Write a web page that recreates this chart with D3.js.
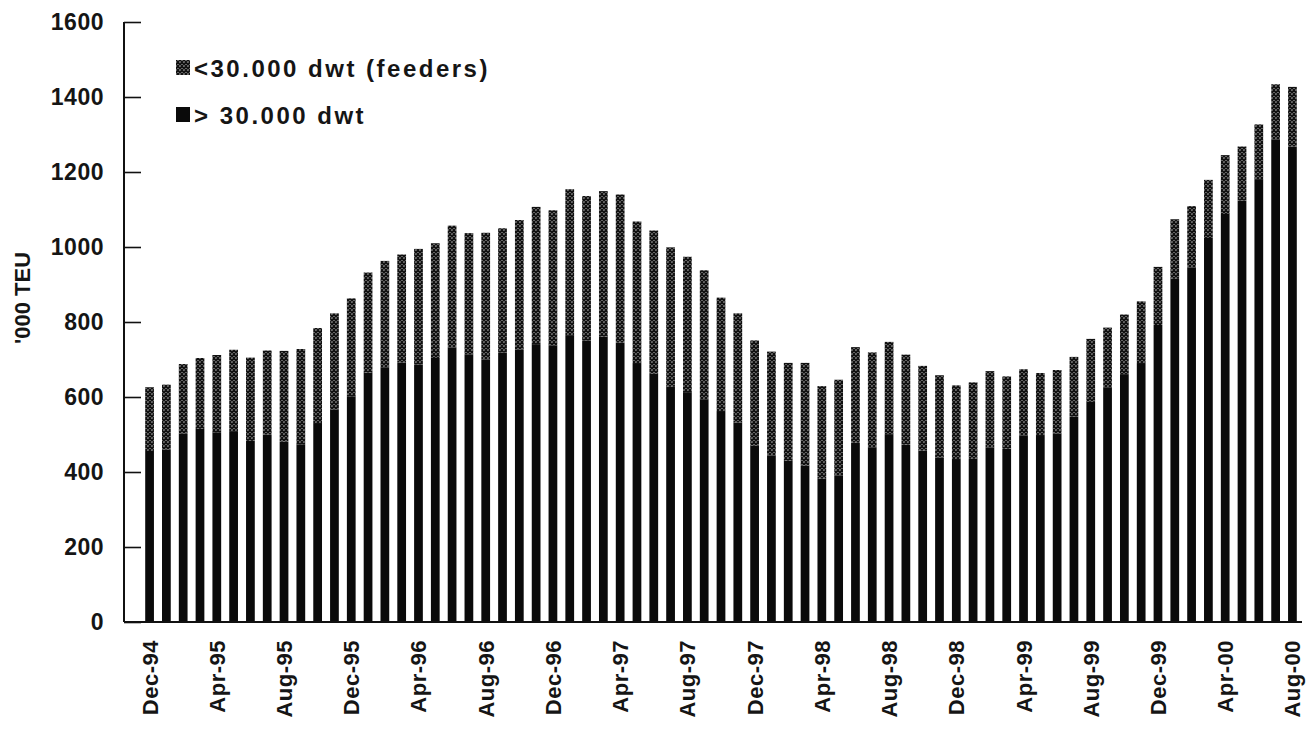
<!DOCTYPE html>
<html>
<head>
<meta charset="utf-8">
<script src="https://cdn.jsdelivr.net/npm/d3@7"></script>
<style>
  body { margin: 0; background: #fff; }
  text { font-family: "Liberation Sans", Arial, sans-serif; fill: #151515; font-weight: bold; }
</style>
</head>
<body>
<div id="chart"></div>
<script>
// monthly categories Dec-94 .. Aug-00
var months = d3.utcMonth.range(new Date(Date.UTC(1994, 11, 1)), new Date(Date.UTC(2000, 8, 1)))
    .map(d3.utcFormat("%b-%y"));
var tickLabels = ["Dec-94","Apr-95","Aug-95","Dec-95","Apr-96","Aug-96","Dec-96","Apr-97",
    "Aug-97","Dec-97","Apr-98","Aug-98","Dec-98","Apr-99","Aug-99","Dec-99","Apr-00","Aug-00"];
var yTicks = [0, 200, 400, 600, 800, 1000, 1200, 1400, 1600];

// '000 TEU, > 30.000 dwt
var large = [456,460,503,515,506,509,483,500,481,474,
    528,567,602,665,678,692,687,704,732,714,
    700,719,727,741,738,765,751,761,745,688,
    662,627,613,594,560,532,470,444,430,417,
    382,391,478,466,501,473,457,439,432,435,
    465,462,497,496,503,548,587,626,661,688,
    792,915,945,1024,1088,1124,1181,1287,1268];
// '000 TEU, < 30.000 dwt (feeders)
var feeders = [170,173,185,189,206,217,222,224,242,254,
    256,256,261,267,285,288,308,306,325,323,
    338,331,345,366,360,389,385,388,395,380,
    382,372,361,344,305,291,281,277,261,274,
    247,255,255,253,246,240,226,219,199,204,
    204,193,177,168,169,159,168,159,159,167,
    155,159,164,155,157,144,146,147,159];

var W = 1307, H = 743;
var svg = d3.select("#chart").append("svg").attr("width", W).attr("height", H);

// crosshatch for the feeder segments
var defs = svg.append("defs");
var pat = defs.append("pattern").attr("id", "hatch")
    .attr("patternUnits", "userSpaceOnUse").attr("width", 4).attr("height", 4);
pat.append("rect").attr("width", 4).attr("height", 4).attr("fill", "#fff");
pat.append("path").attr("d", "M0,0L4,4M4,0L0,4")
    .attr("stroke", "#111").attr("stroke-width", 1.6);

var x = d3.scaleBand().domain(months).range([141, 1301]).paddingInner(0.48).paddingOuter(0.25);
var y = d3.scaleLinear().domain([0, 1600]).range([622, 22]);

var rows = months.map(function(m, i){ return {month: m, large: large[i], feeders: feeders[i]}; });
var stack = d3.stack().keys(["large", "feeders"])(rows);

svg.selectAll("g.layer").data(stack).enter().append("g")
    .attr("class", "layer")
    .attr("fill", function(d){ return d.key == "large" ? "#0a0a0a" : "url(#hatch)"; })
  .selectAll("rect").data(function(d){ return d; }).enter().append("rect")
    .attr("x", function(d){ return x(d.data.month); })
    .attr("y", function(d){ return y(d[1]); })
    .attr("width", x.bandwidth())
    .attr("height", function(d){ return y(d[0]) - y(d[1]); });

// y axis, ticks pointing inward
var yAxis = svg.append("g").attr("transform", "translate(124,0)")
    .call(d3.axisRight(y).tickValues(yTicks).tickSize(17).tickFormat(""));
yAxis.select(".domain").attr("d", "M0,22V622").attr("stroke", "#111").attr("stroke-width", 2);
yAxis.selectAll(".tick line").attr("stroke", "#111").attr("stroke-width", 1.6);

svg.selectAll("text.ylab").data(yTicks).enter().append("text")
    .attr("class", "ylab")
    .attr("x", 104).attr("y", function(d){ return y(d) + 8; })
    .attr("text-anchor", "end")
    .style("font-size", "23px").style("letter-spacing", "0.5px")
    .text(function(d){ return d; });

svg.append("text")
    .attr("transform", "translate(30,298) rotate(-90)")
    .attr("text-anchor", "middle")
    .style("font-size", "22px")
    .text("'000 TEU");

// x axis
svg.append("line").attr("x1", 124).attr("x2", 1302).attr("y1", 622).attr("y2", 622)
    .attr("stroke", "#111").attr("stroke-width", 2);

svg.selectAll("text.xlab").data(tickLabels).enter().append("text")
    .attr("class", "xlab")
    .attr("transform", function(d){
        return "translate(" + (x(d) + x.bandwidth() / 2 + 8) + ",640) rotate(-90)";
    })
    .attr("text-anchor", "end")
    .style("font-size", "22px").style("letter-spacing", "0.5px")
    .text(function(d){ return d; });

// legend
var legend = [
    {label: "<30.000 dwt (feeders)", fill: "url(#hatch)", y: 68},
    {label: "> 30.000 dwt", fill: "#0a0a0a", y: 115}
];
var lg = svg.selectAll("g.legend").data(legend).enter().append("g")
    .attr("class", "legend")
    .attr("transform", function(d){ return "translate(176," + d.y + ")"; });
lg.append("rect").attr("x", 0).attr("y", -8).attr("width", 14).attr("height", 15)
    .attr("fill", function(d){ return d.fill; });
lg.append("text").attr("x", 18).attr("y", 9)
    .style("font-size", "24px").style("letter-spacing", "2.5px")
    .text(function(d){ return d.label; });
</script>
</body>
</html>
